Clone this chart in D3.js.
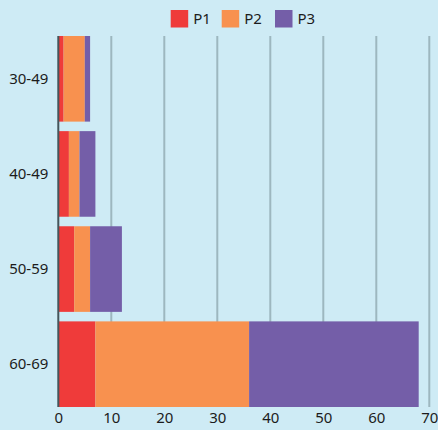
<!DOCTYPE html>
<html>
<head>
<meta charset="utf-8">
<script src="https://cdn.jsdelivr.net/npm/d3@7/dist/d3.min.js"></script>
<style>
  html, body { margin: 0; padding: 0; background: #ceebf5; }
  svg { display: block; font-family: "Noto Sans", "Open Sans", sans-serif; }
</style>
</head>
<body>
<svg id="chart" width="438" height="430"></svg>
<script>
// Age groups and the three stacked series
const categories = ["30-49", "40-49", "50-59", "60-69"];
const seriesNames = ["P1", "P2", "P3"];
const p1 = [1, 2, 3, 7];
const p2 = [4, 2, 3, 29];
const p3 = [1, 3, 6, 32];
const xTicks = [0, 10, 20, 30, 40, 50, 60, 70];
const colors = ["#ef3b3a", "#f8914f", "#745ea8"];

const rows = categories.map((c, i) => ({ cat: c, P1: p1[i], P2: p2[i], P3: p3[i] }));

const svg = d3.select("#chart");
const W = 438, H = 430;

const x = d3.scaleLinear().domain([0, 70]).range([58.3, 429.3]);
const y = d3.scaleBand().domain(categories).range([36, 407]).paddingInner(0.1).paddingOuter(0);
const color = d3.scaleOrdinal().domain(seriesNames).range(colors);

// vertical gridlines
svg.append("g")
  .selectAll("line")
  .data(xTicks.filter(t => t > 0))
  .join("line")
  .attr("x1", d => x(d)).attr("x2", d => x(d))
  .attr("y1", 36).attr("y2", 407)
  .attr("stroke", "#9db7bf")
  .attr("stroke-width", 2);

// stacked bars
const stacked = d3.stack().keys(seriesNames)(rows);
svg.append("g")
  .selectAll("g")
  .data(stacked)
  .join("g")
  .attr("fill", d => color(d.key))
  .selectAll("rect")
  .data(d => d)
  .join("rect")
  .attr("x", d => x(d[0]))
  .attr("width", d => x(d[1]) - x(d[0]))
  .attr("y", d => y(d.data.cat))
  .attr("height", y.bandwidth());

// y axis line and labels
svg.append("line")
  .attr("x1", x(0)).attr("x2", x(0))
  .attr("y1", 36).attr("y2", 407)
  .attr("stroke", "#45555b")
  .attr("stroke-width", 2);

const yAxis = svg.append("g")
  .attr("transform", `translate(${x(0) - 10},0)`)
  .call(d3.axisLeft(y).tickSize(0).tickPadding(0));
yAxis.select(".domain").remove();
yAxis.selectAll("text")
  .attr("font-size", 15)
  .attr("font-family", "Noto Sans, Open Sans, sans-serif")
  .attr("fill", "#1c1c1c");

// x axis labels
const xAxis = svg.append("g")
  .attr("transform", `translate(0,${407})`)
  .call(d3.axisBottom(x).tickValues(xTicks).tickSize(0).tickPadding(5));
xAxis.select(".domain").remove();
xAxis.selectAll("text")
  .attr("font-size", 15)
  .attr("font-family", "Noto Sans, Open Sans, sans-serif")
  .attr("fill", "#1c1c1c");

// legend
const legendX = [170.7, 221.7, 275];
const legend = svg.append("g")
  .selectAll("g")
  .data(seriesNames)
  .join("g")
  .attr("transform", (d, i) => `translate(${legendX[i]},10)`);
legend.append("rect")
  .attr("width", 17.5).attr("height", 17.5)
  .attr("fill", d => color(d));
legend.append("text")
  .attr("x", 22.5).attr("y", 9)
  .attr("dy", "0.35em")
  .attr("font-size", 15)
  .attr("fill", "#1c1c1c")
  .text(d => d);
</script>
</body>
</html>
